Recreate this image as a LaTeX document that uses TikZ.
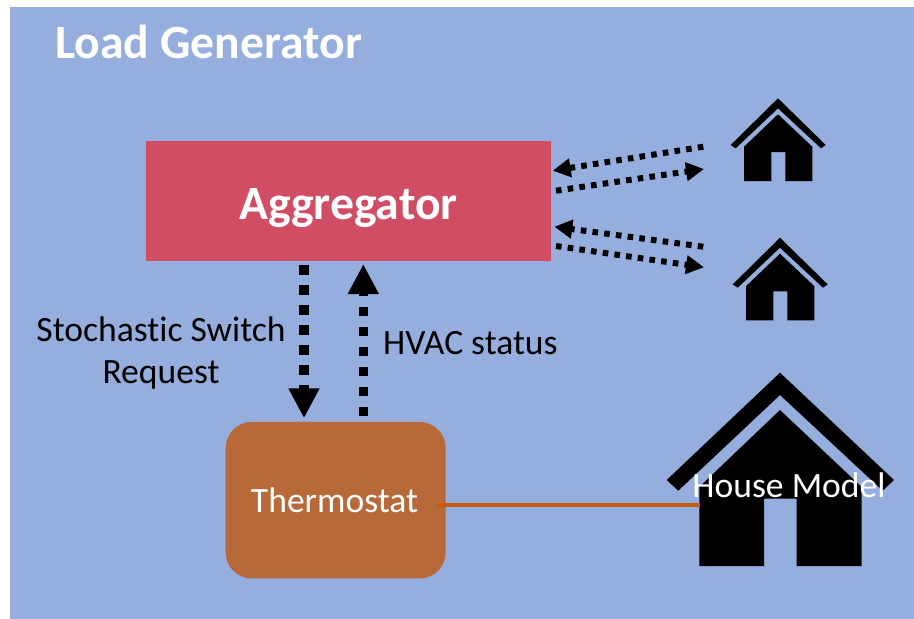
\documentclass[tikz,border=0pt]{standalone}
\usepackage{fontspec}
\setmainfont[Ligatures=NoCommon]{Carlito}
\usetikzlibrary{arrows.meta}
\definecolor{bgblue}{HTML}{96AEDD}
\definecolor{aggred}{HTML}{D04D64}
\definecolor{thermo}{HTML}{B8693A}
\definecolor{linkor}{HTML}{C55A11}
\tikzset{
  smallarrow/.style={line width=6pt,dash pattern=on 5.6pt off 6.2pt,-{Triangle[length=18pt,width=18pt]}},
  bigarrow/.style={line width=9.5pt,dash pattern=on 9.5pt off 10.5pt,-{Triangle[length=30pt,width=29pt]}},
  housefill/.style={fill=black,draw=none},
  lbl/.style={inner sep=0pt,font=\fontsize{35.6}{42}\selectfont,align=center}
}
\begin{document}
\begin{tikzpicture}[x=1pt,y=-1pt]
\useasboundingbox (0,0) rectangle (914,619);
\fill[bgblue] (9.5,7) rectangle (914,619);
\node[inner sep=0pt,anchor=base west,text=white,font=\bfseries\fontsize{47.7}{56}\selectfont] (title) at (55,58) {Load Generator};
% aggregator
\node[fill=aggred,minimum width=405pt,minimum height=120pt,inner sep=0pt] (agg) at (348.5,201) {};
\node[inner sep=0pt,anchor=base,text=white,font=\bfseries\fontsize{47.7}{56}\selectfont] (aggtext) at (348.5,219) {Aggregator};
% thermostat
\node[fill=thermo,rounded corners=26pt,minimum width=220pt,minimum height=156.5pt,inner sep=0pt] (thermostat) at (335.7,500.2) {};
\node[inner sep=0pt,anchor=base,text=white,font=\fontsize{35.6}{42}\selectfont] (thermotext) at (334.5,512) {Thermostat};
% small houses
\foreach \dy/\n in {0/a,139.4/b}{
  \begin{scope}[shift={(0,\dy)}]
  \pgfmathsetmacro{\dx}{\dy/139.4*2}
  \begin{scope}[shift={(\dx,0)}]
  \fill[housefill] (778,98.3) -- (825.7,145) -- (821,148.3) -- (778,108.3) -- (735.7,148.3) -- (730.7,145) -- cycle;
  \fill[housefill] (778,114.3) -- (812.3,146.7) -- (812.3,181) -- (785.3,181) -- (785.3,152) -- (771.3,152) -- (771.3,181) -- (744,181) -- (744,146.7) -- cycle;
  \end{scope}
  \end{scope}
}
% big house
\fill[housefill] (780,372.7) -- (894,480) -- (882.7,490.7) -- (780,395) -- (678.3,490.7) -- (666.7,480) -- cycle;
\fill[housefill] (780,410) -- (861.7,487) -- (861.7,566) -- (796.7,566) -- (796.7,498.7) -- (764,498.7) -- (764,566) -- (699.3,566) -- (699.3,487) -- cycle;
\coordinate (housewall) at (699.5,505);
\coordinate (h1in) at (703.3,146.7);
\coordinate (h1out) at (704,169);
\coordinate (h2in) at (703.3,246.7);
\coordinate (h2out) at (704,267.3);
\coordinate (a1) at (552.7,170.7);
\coordinate (a2) at (556,190.7);
\coordinate (a3) at (554.3,226.7);
\coordinate (a4) at (556,246);
\draw[smallarrow] (h1in) -- (a1);
\draw[smallarrow] (a2) -- (h1out);
\draw[smallarrow] (h2in) -- (a3);
\draw[smallarrow] (a4) -- (h2out);
\coordinate (downstart) at (304,265);
\coordinate (downend) at (304,418.3);
\coordinate (upstart) at (363.3,416);
\coordinate (upend) at (363.3,264);
\draw[bigarrow] (downstart) -- (downend);
\draw[bigarrow] (upstart) -- (upend);
\draw[linkor,line width=3.5pt] ([xshift=-9.5pt]thermostat.east |- housewall) -- (housewall);
\node[lbl,anchor=base] (ssr) at (161,341) {Stochastic Switch};
\node[lbl,anchor=base] (ssr2) at (161,383) {Request};
\node[lbl,anchor=base west] (hvac) at (383,354) {HVAC status};
\node[inner sep=0pt,anchor=base,text=white,font=\fontsize{35.6}{42}\selectfont] (hm) at (789,497) {House Model};
\end{tikzpicture}
\end{document}
